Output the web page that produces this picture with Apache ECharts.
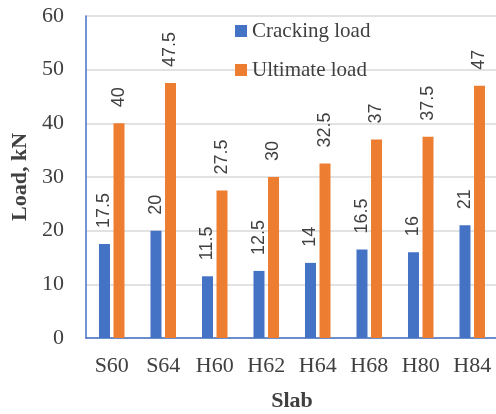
<!DOCTYPE html>
<html>
<head>
<meta charset="utf-8">
<script src="https://cdn.jsdelivr.net/npm/echarts@6/dist/echarts.min.js"></script>
<style>
  html, body { margin: 0; padding: 0; background: #fff; }
  #chart { width: 496px; height: 414px; }
</style>
</head>
<body>
<div id="chart"></div>
<script>
// Slab test results: load at first crack and at failure (kN)
const slabs = ['S60', 'S64', 'H60', 'H62', 'H64', 'H68', 'H80', 'H84'];
const crackingLoad = [17.5, 20, 11.5, 12.5, 14, 16.5, 16, 21];
const ultimateLoad = [40, 47.5, 27.5, 30, 32.5, 37, 37.5, 47];
const yTicks = [0, 10, 20, 30, 40, 50, 60];

const serif = '"Liberation Serif", "Times New Roman", serif';
const sans = '"Liberation Sans", Arial, sans-serif';
const textColor = '#404040';
const axisBlue = '#4472c4';

const valueLabel = {
  show: true,
  position: 'top',
  rotate: 90,
  align: 'left',
  verticalAlign: 'middle',
  distance: 16,
  fontFamily: sans,
  fontSize: 18,
  color: textColor
};

const chart = echarts.init(document.getElementById('chart'), null, { renderer: 'canvas' });
chart.setOption({
  animation: false,
  backgroundColor: '#fff',
  grid: {
    left: 86, top: 16, width: 412, height: 322,
    containLabel: false,
    outerBoundsMode: 'none'
  },
  legend: {
    orient: 'vertical',
    left: 230,
    top: 15,
    itemWidth: 12,
    itemHeight: 12,
    itemGap: 17,
    icon: 'rect',
    textStyle: { fontFamily: serif, fontSize: 21, color: textColor, lineHeight: 22 },
    data: ['Cracking load', 'Ultimate load']
  },
  xAxis: {
    type: 'category',
    data: slabs,
    name: 'Slab',
    nameLocation: 'middle',
    nameGap: 52,
    nameTextStyle: { fontFamily: serif, fontSize: 22, fontWeight: 'bold', color: textColor },
    axisLine: { lineStyle: { color: axisBlue, width: 1.5 } },
    axisTick: { show: false },
    axisLabel: { fontFamily: serif, fontSize: 22, color: textColor, margin: 17 }
  },
  yAxis: {
    type: 'value',
    min: yTicks[0],
    max: yTicks[yTicks.length - 1],
    interval: 10,
    name: 'Load, kN',
    nameLocation: 'middle',
    nameGap: 54,
    nameRotate: 90,
    nameTextStyle: { fontFamily: serif, fontSize: 22, fontWeight: 'bold', color: textColor },
    axisLine: { show: true, lineStyle: { color: axisBlue, width: 1.5 } },
    axisTick: { show: false },
    axisLabel: { fontFamily: serif, fontSize: 22, color: textColor, margin: 22 },
    splitLine: { lineStyle: { color: '#d9d9d9', width: 1.5 } }
  },
  series: [
    {
      name: 'Cracking load',
      type: 'bar',
      data: crackingLoad,
      barWidth: 11,
      barGap: '32%',
      itemStyle: { color: '#4472c4' },
      label: valueLabel
    },
    {
      name: 'Ultimate load',
      type: 'bar',
      data: ultimateLoad,
      barWidth: 11,
      itemStyle: { color: '#ed7d31' },
      label: valueLabel
    }
  ]
});
</script>
</body>
</html>
